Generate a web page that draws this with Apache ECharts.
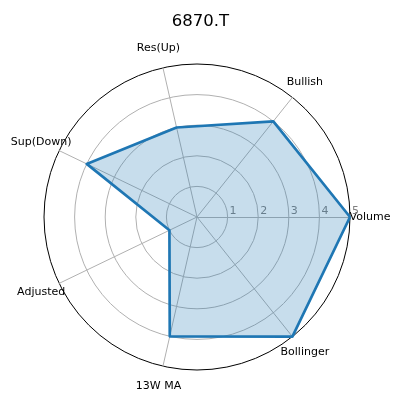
<!DOCTYPE html>
<html>
<head>
<meta charset="utf-8">
<script src="https://cdn.jsdelivr.net/npm/echarts@6/dist/echarts.min.js"></script>
<style>html,body{margin:0;padding:0;background:#fff}#c{width:401px;height:401px}</style>
</head>
<body>
<div id="c"></div>
<script>
const title = '6870.T';
const categories = ['Volume', 'Bullish', 'Res(Up)', 'Sup(Down)', 'Adjusted', '13W MA', 'Bollinger'];
const values = [5, 4, 3, 4, 1, 4, 5];
const maxValue = 5;
const tickCount = 5;

const chart = echarts.init(document.getElementById('c'), null, {renderer: 'canvas'});
const FONT = 'DejaVu Sans';
const indicators = categories.map((name, i) => {
  const ind = {name: name, max: maxValue, min: 0, nameMoveOverlap: false};
  if (i === 0) {
    ind.axisLabel = {
      show: true, color: 'grey', fontSize: 11, fontFamily: FONT,
      align: 'left', verticalAlign: 'bottom', margin: 0, padding: [0, 0, 0, 2],
      showMinLabel: false
    };
  }
  return ind;
});

chart.setOption({
  animation: false,
  title: {
    text: title, left: 'center', top: 8,
    textStyle: {fontFamily: FONT, fontSize: 16.5, fontWeight: 'normal', color: '#000'}
  },
  radar: {
    center: [197, 217],
    radius: 153,
    startAngle: 0,
    shape: 'circle',
    splitNumber: tickCount,
    indicator: indicators,
    nameGap: 20,
    axisName: {color: '#000', fontSize: 11, fontFamily: FONT, align: 'center', verticalAlign: 'middle'},
    axisLine: {show: true, lineStyle: {color: '#b0b0b0', width: 1}},
    axisTick: {show: false},
    axisLabel: {show: false},
    splitLine: {show: true, lineStyle: {color: ['#b0b0b0', '#b0b0b0', '#b0b0b0', '#b0b0b0', '#b0b0b0', '#000'], width: 1}},
    splitArea: {show: false}
  },
  series: [{
    type: 'radar',
    symbol: 'none',
    lineStyle: {color: '#1f77b4', width: 2.7},
    areaStyle: {color: '#1f77b4', opacity: 0.25},
    data: [{value: values, name: title}]
  }]
});
</script>
</body>
</html>
